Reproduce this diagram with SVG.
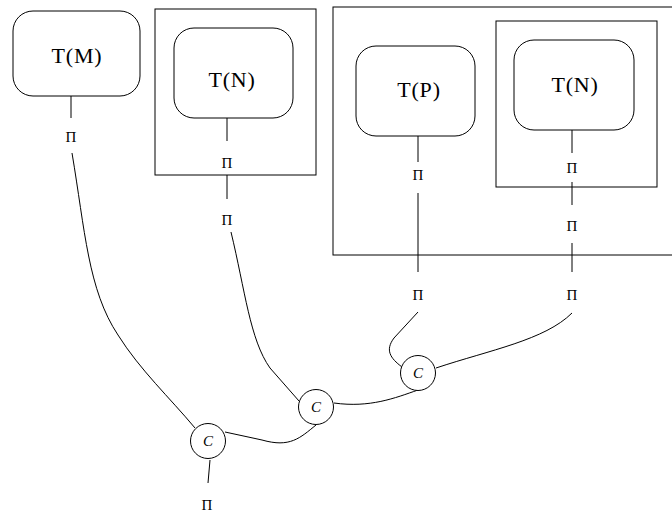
<svg xmlns="http://www.w3.org/2000/svg" width="672" height="517" viewBox="0 0 672 517">
<style>
.box{fill:none;stroke:#000;stroke-width:1}
.rb{fill:none;stroke:#000;stroke-width:1}
.ln{fill:none;stroke:#000;stroke-width:1}
.t{font-family:"Liberation Serif",serif;font-size:22px;letter-spacing:0.8px;text-anchor:middle;fill:#000}
.p{font-family:"Liberation Serif",serif;font-size:15px;text-anchor:middle;fill:#000}
.c{font-family:"Liberation Serif",serif;font-size:15px;font-style:italic;text-anchor:middle;fill:#000}
.cc{fill:#fff;stroke:#000;stroke-width:1}
</style>
<rect width="672" height="517" fill="#fff"/>
<g id="frameN"><rect class="box" x="155" y="9" width="161" height="166"/></g>
<g id="frameBig"><rect class="box" x="333" y="7" width="345" height="248"/></g>
<g id="frameN2"><rect class="box" x="496" y="21" width="161" height="166"/></g>
<g id="TM"><rect class="rb" x="13" y="11" width="127" height="85" rx="20"/><text class="t" x="77" y="63">T(M)</text></g>
<g id="TN"><rect class="rb" x="174" y="28" width="119" height="90" rx="20"/><text class="t" x="232" y="87">T(N)</text></g>
<g id="TP"><rect class="rb" x="356" y="46" width="119" height="90" rx="20"/><text class="t" x="419" y="97">T(P)</text></g>
<g id="TN2"><rect class="rb" x="514" y="40" width="120" height="90" rx="20"/><text class="t" x="575" y="92">T(N)</text></g>
<g id="labels">
<text class="p" x="71" y="142">Π</text>
<text class="p" x="227" y="168">Π</text>
<text class="p" x="227" y="225">Π</text>
<text class="p" x="418" y="180">Π</text>
<text class="p" x="572" y="173">Π</text>
<text class="p" x="572" y="231">Π</text>
<text class="p" x="418" y="300">Π</text>
<text class="p" x="572" y="300">Π</text>
<text class="p" x="207" y="510">Π</text>
</g>
<g id="connectors">
<path class="ln" d="M71,96 V118"/>
<path class="ln" d="M72,153 C85,230 88,290 118,335 C140,370 170,398 195,428"/>
<path class="ln" d="M227,118 V141"/>
<path class="ln" d="M227,175 V199"/>
<path class="ln" d="M231,232 C245,290 250,340 270,368 L299,401"/>
<path class="ln" d="M418,136 V162"/>
<path class="ln" d="M418,193 V272"/>
<path class="ln" d="M572,130 V153"/>
<path class="ln" d="M572,182 V205"/>
<path class="ln" d="M572,243 V272"/>
<path class="ln" d="M418,312 L394,338 C385,350 390,358 402,367"/>
<path class="ln" d="M572,313 C545,340 490,350 436,368"/>
<path class="ln" d="M418,390 C395,398 370,408 334,403"/>
<path class="ln" d="M316,425 C300,438 290,448 262,440 L225,432"/>
<path class="ln" d="M210,460 L208,483"/>
</g>
<g id="C3"><circle class="cc" cx="418" cy="373" r="17.5"/><text class="c" x="418" y="378">C</text></g>
<g id="C2"><circle class="cc" cx="316" cy="407" r="17.5"/><text class="c" x="316" y="412">C</text></g>
<g id="C1"><circle class="cc" cx="208" cy="441" r="17.5"/><text class="c" x="208" y="446">C</text></g>
</svg>
